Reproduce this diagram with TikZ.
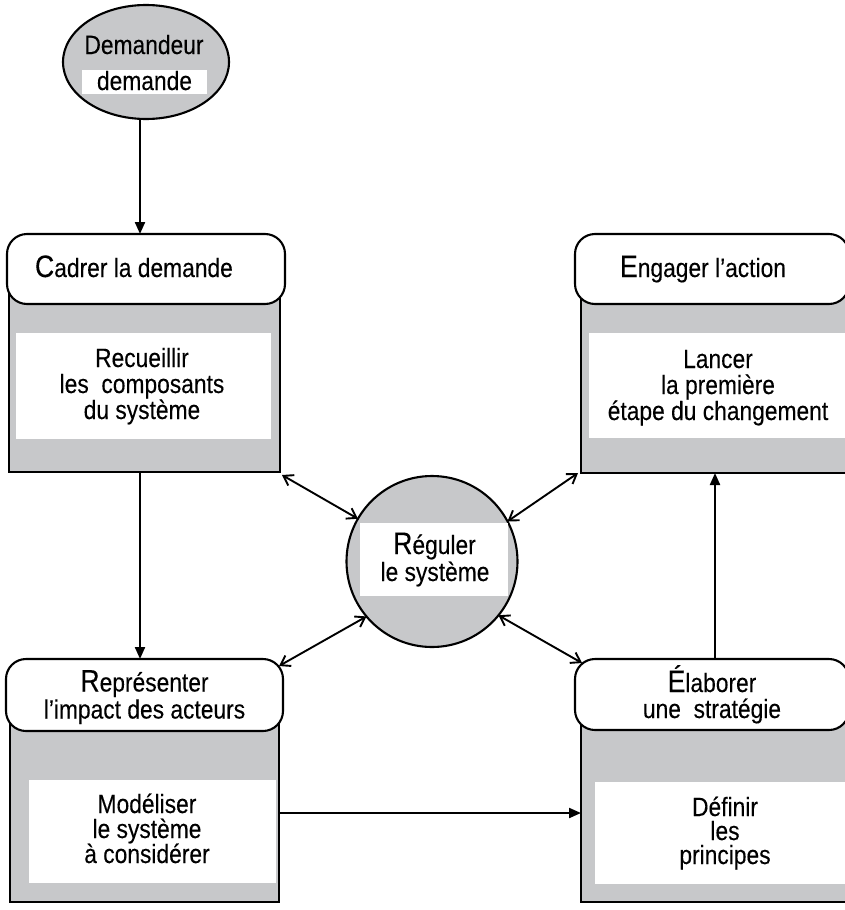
\documentclass[tikz,border=0pt]{standalone}
\usepackage{fontspec}
\setmainfont[FakeStretch=0.86,FakeBold=0.15]{Liberation Sans}
\usetikzlibrary{shapes.geometric,arrows.meta,calc}
\definecolor{boxgray}{RGB}{199,200,202}
\newcommand\FL[1]{{\fontsize{31}{31}\selectfont #1}}
\begin{document}
\begin{tikzpicture}[x=1pt,y=-1pt,
  every node/.style={inner sep=0pt, outer sep=0pt},
  body/.style={draw=black, line width=2.1pt, fill=boxgray},
  hdr/.style={draw=black, line width=2.1pt, fill=white, rounded corners=20pt},
  whitebox/.style={fill=white},
  txt/.style={font=\fontsize{26.5}{26.5}\selectfont, anchor=base},
  sarrow/.style={line width=2.1pt, -{Triangle[length=12pt,width=10pt]}},
  darrow/.style={line width=1.9pt, {Straight Barb[length=9pt,width=12pt]}-{Straight Barb[length=9pt,width=12pt]}},
]
\useasboundingbox (0,0) rectangle (844,910);

% Demandeur
\node[ellipse, draw, line width=2.1pt, fill=boxgray, minimum width=166pt, minimum height=114pt] (dem) at (146,62) {};
\node[whitebox, minimum width=125pt, minimum height=24pt] (inD) at (144.5,82) {};
\node[txt] (tD1) at (144,54) {Demandeur};
\node[txt] (tD2) at (144.5,90) {demande};

% Cadrer la demande
\node[body, minimum width=271pt, minimum height=192pt] (bodC) at (144.5,376) {};
\node[hdr, minimum width=278pt, minimum height=70pt] (hdrC) at (146,269) {};
\node[whitebox, minimum width=255pt, minimum height=106pt] (inC) at (143.5,386) {};
\node[txt, anchor=base west] (tC) at (35,277) {\FL{C}adrer la demande};
\node[txt] (tC1) at (142,367) {Recueillir};
\node[txt] (tC2) at (142,393) {les~~composants};
\node[txt] (tC3) at (142,419) {du système};

% Engager l'action
\node[body, minimum width=275pt, minimum height=193pt] (bodE) at (718.5,376.5) {};
\node[hdr, minimum width=274pt, minimum height=70pt] (hdrE) at (712,269) {};
\node[whitebox, minimum width=258pt, minimum height=105pt] (inE) at (718,385.5) {};
\node[txt, anchor=base west] (tE) at (620,277) {\FL{E}ngager l'action};
\node[txt] (tE1) at (718,368) {Lancer};
\node[txt] (tE2) at (718,394) {la première};
\node[txt] (tE3) at (718,420) {étape du changement};

% Réguler le système
\node[circle, draw, line width=2.1pt, fill=boxgray, minimum size=171pt] (circ) at (432,561.5) {};
\node[whitebox, minimum width=148pt, minimum height=73pt] (inG) at (434,559.5) {};
\node[txt] (tG1) at (434.5,554) {\FL{R}éguler};
\node[txt] (tG2) at (435,581) {le système};

% Représenter
\node[body, minimum width=269pt, minimum height=202pt] (bodR) at (144.5,801) {};
\node[hdr, minimum width=277pt, minimum height=72pt] (hdrR) at (144.5,695) {};
\node[whitebox, minimum width=247pt, minimum height=103pt] (inR) at (152.5,831.5) {};
\node[txt] (tR1) at (144.5,691.5) {\FL{R}eprésenter};
\node[txt] (tR2) at (144.5,718.5) {l'impact des acteurs};
\node[txt] (tR3) at (147,813) {Modéliser};
\node[txt] (tR4) at (147,838) {le système};
\node[txt] (tR5) at (147,863) {à considérer};

% Elaborer
\node[body, minimum width=275pt, minimum height=202pt] (bodL) at (718.5,801) {};
\node[hdr, minimum width=274pt, minimum height=71pt] (hdrL) at (712,694.5) {};
\node[whitebox, minimum width=254pt, minimum height=102pt] (inL) at (722,833) {};
\node[txt] (tL1) at (712,692) {\FL{É}laborer};
\node[txt] (tL2) at (712,718) {une~~stratégie};
\node[txt] (tL3) at (725,816) {Définir};
\node[txt] (tL4) at (725,840) {les};
\node[txt] (tL5) at (725,864) {principes};

% single arrows
\coordinate (a1) at ($(dem.south)+(-6,0)$);
\draw[sarrow] (a1) -- (a1 |- hdrC.north);
\coordinate (a2) at ($(bodC.south)+(-4.5,0)$);
\draw[sarrow] (a2) -- (a2 |- hdrR.north);
\coordinate (a3) at ($(hdrL.north)+(3,0)$);
\draw[sarrow] (a3) -- (a3 |- bodE.south);
\coordinate (a4) at ($(bodR.east)+(0,12)$);
\draw[sarrow] (a4) -- (a4 -| bodL.west);

% double arrows
\coordinate (d1) at ($(bodC.south east)+(2,3)$);
\draw[darrow] (d1) -- (circ.150);
\coordinate (d2) at ($(bodE.south west)+(-3,0)$);
\draw[darrow] (d2) -- (circ.28);
\coordinate (d3) at ($(hdrR.north east)+(-4,7)$);
\draw[darrow] (circ.220) -- (d3);
\coordinate (d4) at ($(hdrL.north west)+(7,4)$);
\draw[darrow] (circ.321) -- (d4);
\end{tikzpicture}
\end{document}
